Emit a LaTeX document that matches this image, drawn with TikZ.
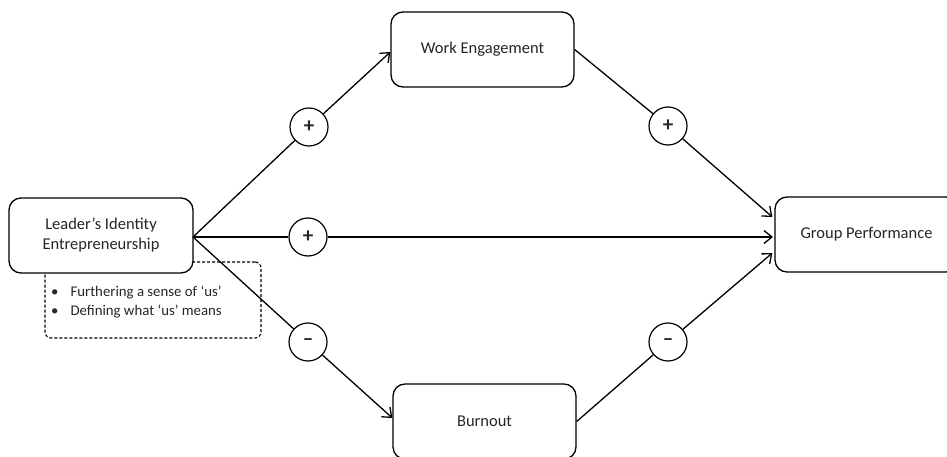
\documentclass[tikz,border=0pt]{standalone}
\usepackage{fontspec}
\setmainfont{Carlito}
\usetikzlibrary{arrows.meta}
\begin{document}
\begin{tikzpicture}[x=1pt,y=-1pt,
  every node/.style={font=\fontsize{16.5}{20}\selectfont, text=black!85},
  box/.style={draw, line width=1.3pt, rounded corners=12pt, fill=white, minimum width=183pt, minimum height=75pt, inner sep=0pt, align=center},
  notes/.style={draw, dash pattern=on 3pt off 2pt, line width=1.1pt, rounded corners=6pt, minimum width=216pt, minimum height=76pt, inner sep=0pt},
  sign/.style={draw, circle, line width=1.2pt, fill=white, minimum size=38pt, inner sep=0pt, font=\fontsize{21}{21}\selectfont\bfseries},
  conn/.style={line width=1.3pt},
  arr/.style={conn, -{Straight Barb[length=8pt,width=13pt]}}
]
\useasboundingbox (0,0) rectangle (947,457);
\node[notes] (notes) at (153,300) {};
\node[anchor=west, inner sep=0pt] (notestext) at (51,302) {\fontsize{14.8}{19.3}\selectfont\begin{tabular}{@{}l@{\hspace{12pt}}l@{}}•&Furthering a sense of ‘us’\\ •&Defining what ‘us’ means\end{tabular}};
\node[box, minimum width=184pt] (leader) at (101,235.5) {Leader’s Identity\\Entrepreneurship};
\node[box] (we) at (482.5,49.5) {Work Engagement};
\node[box] (burn) at (484.5,421.5) {Burnout};
\node[box] (gp) at (866.5,234.5) {Group Performance};
\coordinate (src) at (193,237);
\node[sign] (c1) at (309,127) {+};
\node[sign] (c2) at (308,237) {+};
\node[sign] (c3) at (308,342) {–};
\node[sign] (c4) at (668,126) {+};
\node[sign] (c5) at (668,342) {–};
\draw[conn] (src) -- (c1);
\draw[arr] (c1) -- ([yshift=-2.5pt]we.west);
\draw[conn] (src) -- (c2);
\draw[arr] (c2) -- (773,237);
\draw[conn] (src) -- (c3);
\draw[arr] (c3) -- ([yshift=3.5pt]burn.west);
\draw[conn] (we.east) -- (c4);
\draw[arr] (c4) -- ([yshift=17.5pt,xshift=-2pt]gp.west);
\draw[conn] (burn.east) -- (c5);
\draw[arr] (c5) -- ([yshift=-18.5pt,xshift=-2pt]gp.west);
\end{tikzpicture}
\end{document}
